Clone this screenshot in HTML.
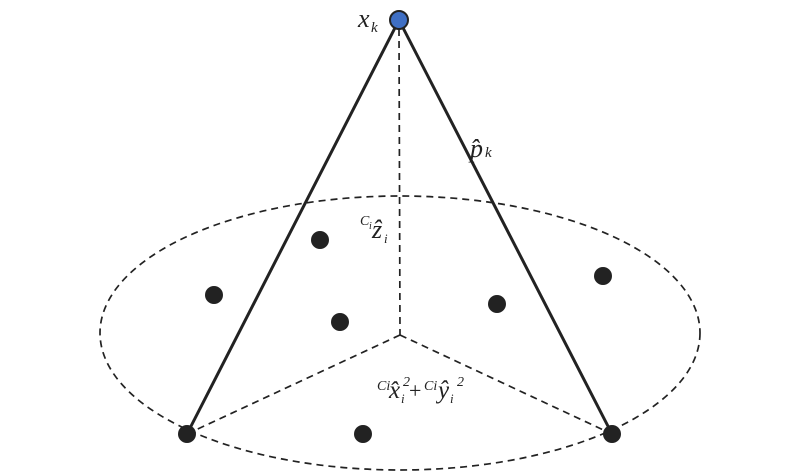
<!DOCTYPE html>
<html><head><style>body{margin:0;background:#fff}svg{display:block}text{font-family:"Liberation Serif",serif;font-style:italic;fill:#222}</style></head>
<body>
<svg width="800" height="476" viewBox="0 0 800 476">
<ellipse cx="400" cy="333" rx="300" ry="137" fill="none" stroke="#222" stroke-width="1.7" stroke-dasharray="7,5"/>
<line x1="399" y1="29" x2="400" y2="335" stroke="#222" stroke-width="1.7" stroke-dasharray="7,5"/>
<line x1="400" y1="335" x2="187" y2="434" stroke="#222" stroke-width="1.7" stroke-dasharray="7,5"/>
<line x1="400" y1="335" x2="612" y2="434" stroke="#222" stroke-width="1.7" stroke-dasharray="7,5"/>
<line x1="399" y1="20" x2="187" y2="434" stroke="#222" stroke-width="3"/>
<line x1="399" y1="20" x2="612" y2="434" stroke="#222" stroke-width="3"/>
<g fill="#222">
<circle cx="187" cy="434" r="9"/><circle cx="612" cy="434" r="9"/>
<circle cx="320" cy="240" r="9"/><circle cx="214" cy="295" r="9"/>
<circle cx="340" cy="322" r="9"/><circle cx="497" cy="304" r="9"/>
<circle cx="603" cy="276" r="9"/><circle cx="363" cy="434" r="9"/>
</g>
<circle cx="399" cy="20" r="9" fill="#3f6fc4" stroke="#222" stroke-width="2"/>
<text x="358" y="27" font-size="26">x</text><text x="371" y="32" font-size="15">k</text>
<text x="470" y="157" font-size="26">p̂</text><text x="485" y="157" font-size="15">k</text>
<text x="360" y="225" font-size="14">C</text><text x="369" y="229" font-size="10">i</text>
<text x="372" y="238" font-size="26">ẑ</text><text x="384" y="243" font-size="13">i</text>
<text x="377" y="390" font-size="14">Ci</text><text x="389" y="398" font-size="25">x̂</text>
<text x="401" y="403" font-size="13">i</text><text x="403" y="386" font-size="14">2</text>
<text x="409" y="398" font-size="22" style="font-style:normal">+</text>
<text x="424" y="390" font-size="14">Ci</text><text x="438" y="398" font-size="25">ŷ</text>
<text x="450" y="403" font-size="13">i</text><text x="457" y="386" font-size="14">2</text>
</svg>
</body></html>
